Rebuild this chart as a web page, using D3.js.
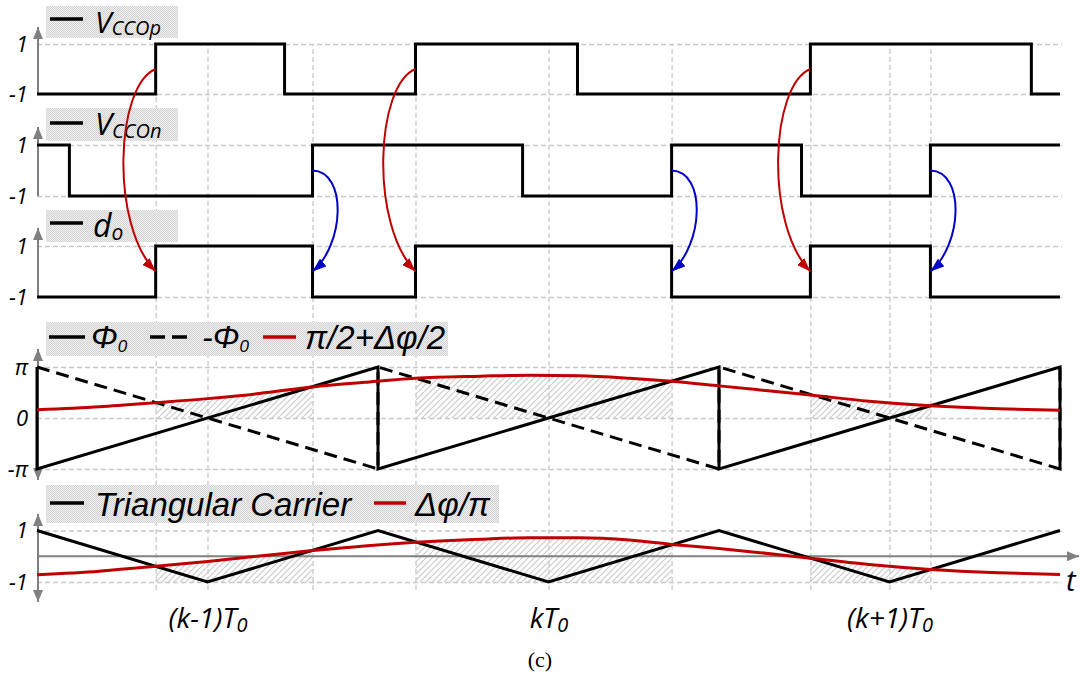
<!DOCTYPE html>
<html>
<head>
<meta charset="utf-8">
<script src="https://cdn.jsdelivr.net/npm/d3@7"></script>
<style>
  body { margin: 0; background: #fff; }
  svg { display: block; }
</style>
</head>
<body>
<svg id="chart" width="1080" height="677"></svg>
<script>
// time is in units of T0, with (k-1)T0 at t = 0
const tStart = -0.5, tEnd = 2.5;
const gridTimes = [-0.152, 0, 0.308, 0.61, 1.0, 1.361, 1.768, 2.0, 2.12];
const periodTimes = [0, 1, 2];
const periodNames = ["(k-1)T", "kT", "(k+1)T"];

// square waves: switching instants and the level held after each
const vpEdges = [-0.5, -0.152, 0.226, 0.61, 1.085, 1.768, 2.416, 2.5];
const vpLevels = [-1, 1, -1, 1, -1, 1, -1, -1];
const vnEdges = [-0.5, -0.405, 0.308, 0.924, 1.361, 1.742, 2.12, 2.5];
const vnLevels = [1, -1, 1, -1, 1, -1, 1, 1];
const doEdges = [-0.5, -0.152, 0.308, 0.61, 1.361, 1.768, 2.12, 2.5];
const doLevels = [-1, 1, -1, 1, -1, 1, -1, -1];

// phase ramps (units of pi)
const phiT = [-0.5, -0.5, 0.5, 0.5, 1.5, 1.5, 2.5, 2.5];
const phiV = [1, -1, 1, -1, 1, -1, 1, -1];
const negPhiT = [-0.5, 0.5, 0.5, 1.5, 1.5, 2.5, 2.5];
const negPhiV = [1, -1, 1, -1, 1, -1, 1];

// smooth red curves
const curveT = [-0.5, -0.317, -0.152, 0, 0.152, 0.308, 0.46, 0.61, 0.8, 0.944,
                1.09, 1.238, 1.361, 1.5, 1.62, 1.768, 1.94, 2.12, 2.32, 2.5];
const halfPiPlus = [0.16, 0.22, 0.30, 0.38, 0.48, 0.61, 0.70, 0.78, 0.82, 0.84,
                    0.83, 0.78, 0.72, 0.63, 0.55, 0.45, 0.33, 0.24, 0.18, 0.15];
const dPhiOverPi = [-0.72, -0.58, -0.39, -0.2, 0.01, 0.22, 0.4, 0.54, 0.66, 0.72,
                    0.72, 0.63, 0.46, 0.3, 0.14, -0.08, -0.32, -0.51, -0.64, -0.71];

// triangular carrier
const carrierT = [-0.5, 0, 0.5, 1, 1.5, 2, 2.5];
const carrierV = [1, -1, 1, -1, 1, -1, 1];

// shaded intervals
const shadeFrom = [-0.152, 0.61, 1.768];
const shadeTo = [0.308, 1.361, 2.12];

// arrows: red from VCCOp rising edges, blue from VCCOn rising edges
const redArrowT = [-0.152, 0.61, 1.768];
const blueArrowT = [0.308, 1.361, 2.12];

const svg = d3.select("#chart");
const x = d3.scaleLinear().domain([tStart, tEnd]).range([37, 1060]);
const y1 = d3.scaleLinear().domain([-1, 1]).range([94, 44]);
const y2 = d3.scaleLinear().domain([-1, 1]).range([196, 145]);
const y3 = d3.scaleLinear().domain([-1, 1]).range([297, 246]);
const y4 = d3.scaleLinear().domain([-1, 1]).range([469, 367]);
const y5 = d3.scaleLinear().domain([-1, 1]).range([582, 530.5]);

const gridColor = "#c8c8c8";
const axisColor = "#808080";
const red = "#c00000";
const blue = "#0000c8";
const cal = "'Open Sans', Lato, sans-serif";
const arial = "'Liberation Sans', Arial, sans-serif";

const defs = svg.append("defs");
const dots = defs.append("pattern").attr("id", "dots")
  .attr("patternUnits", "userSpaceOnUse").attr("width", 2).attr("height", 2);
dots.append("rect").attr("width", 2).attr("height", 2).attr("fill", "#f0f0f0");
dots.append("rect").attr("width", 1).attr("height", 1).attr("fill", "#d2d2d2");
dots.append("rect").attr("x", 1).attr("y", 1).attr("width", 1).attr("height", 1).attr("fill", "#d2d2d2");

const hatch = defs.append("pattern").attr("id", "hatch")
  .attr("patternUnits", "userSpaceOnUse").attr("width", 6).attr("height", 6);
hatch.append("path").attr("d", "M-1,1 l2,-2 M0,6 l6,-6 M5,7 l2,-2")
  .attr("stroke", gridColor).attr("stroke-width", 1.1);

function marker(id, color, len, half) {
  defs.append("marker").attr("id", id)
    .attr("viewBox", `0 ${-half} ${len} ${half * 2}`)
    .attr("refX", len).attr("refY", 0)
    .attr("markerUnits", "userSpaceOnUse")
    .attr("markerWidth", len).attr("markerHeight", half * 2)
    .attr("orient", "auto-start-reverse")
    .append("path").attr("d", `M0,${-half}L${len},0L0,${half}Z`).attr("fill", color);
}
marker("axArrow", axisColor, 12, 5);
marker("redHead", red, 14, 5);
marker("blueHead", blue, 14, 5);

// vertical grid
const vGrid = svg.append("g").attr("transform", "translate(0,590)")
  .call(d3.axisBottom(x).tickValues(gridTimes).tickSize(-(590 - 44)).tickFormat(""));
vGrid.select(".domain").remove();
vGrid.selectAll("line").attr("stroke", gridColor).attr("stroke-width", 1.3).attr("stroke-dasharray", "5,3");

// horizontal grid + tick labels
const levelName = { "1": "1", "-1": "-1" };
const phaseName = { "1": "π", "0": "0", "-1": "-π" };
function yGrid(scale, values, names) {
  const g = svg.append("g").attr("transform", "translate(37,0)")
    .call(d3.axisLeft(scale).tickValues(values).tickSize(-(1062 - 37)).tickPadding(9)
      .tickFormat(d => names[d]));
  g.select(".domain").remove();
  g.selectAll("line").attr("stroke", gridColor).attr("stroke-width", 1.3).attr("stroke-dasharray", "5,3");
  g.selectAll("text").attr("font-family", cal).attr("font-style", "italic")
    .attr("font-size", 22).attr("fill", "#000");
}
yGrid(y1, [-1, 1], levelName);
yGrid(y2, [-1, 1], levelName);
yGrid(y3, [-1, 1], levelName);
yGrid(y4, [-1, 0, 1], phaseName);
yGrid(y5, [-1, 1], levelName);

// hatched areas under the red curves
const pts4 = curveT.map((t, i) => [t, halfPiPlus[i]]);
const pts5 = curveT.map((t, i) => [t, dPhiOverPi[i]]);
shadeFrom.forEach((a, i) => {
  const cid = "clip" + i;
  defs.append("clipPath").attr("id", cid).append("rect")
    .attr("x", x(a)).attr("y", 0).attr("width", x(shadeTo[i]) - x(a)).attr("height", 677);
  svg.append("path").datum(pts4).attr("clip-path", `url(#${cid})`).attr("fill", "url(#hatch)")
    .attr("d", d3.area().x(d => x(d[0])).y0(y4(0)).y1(d => y4(d[1])).curve(d3.curveMonotoneX));
  svg.append("path").datum(pts5).attr("clip-path", `url(#${cid})`).attr("fill", "url(#hatch)")
    .attr("d", d3.area().x(d => x(d[0])).y0(y5(-1)).y1(d => y5(d[1])).curve(d3.curveMonotoneX));
});

// axes with arrows
function vAxis(yTop, yBot, both) {
  svg.append("line").attr("x1", 38).attr("x2", 38).attr("y1", yBot).attr("y2", yTop)
    .attr("stroke", axisColor).attr("stroke-width", 2)
    .attr("marker-end", "url(#axArrow)")
    .attr("marker-start", both ? "url(#axArrow)" : null);
}
vAxis(27, y1(-1), false);
vAxis(127, y2(-1), false);
vAxis(228, y3(-1), false);
vAxis(349, 480, true);
vAxis(514, 602, true);
svg.append("line").attr("x1", x(tStart)).attr("x2", 1079).attr("y1", y5(0)).attr("y2", y5(0))
  .attr("stroke", axisColor).attr("stroke-width", 2).attr("marker-end", "url(#axArrow)");

// waveforms
function drawLine(pts, yScale, color, curve, dash) {
  svg.append("path").datum(pts)
    .attr("d", d3.line().x(d => x(d[0])).y(d => yScale(d[1])).curve(curve))
    .attr("fill", "none").attr("stroke", color).attr("stroke-width", 3)
    .attr("stroke-linejoin", "miter").attr("stroke-dasharray", dash || null);
}
const zip = (a, b) => a.map((v, i) => [v, b[i]]);
drawLine(zip(vpEdges, vpLevels), y1, "#000", d3.curveStepAfter);
drawLine(zip(vnEdges, vnLevels), y2, "#000", d3.curveStepAfter);
drawLine(zip(doEdges, doLevels), y3, "#000", d3.curveStepAfter);
drawLine(zip(negPhiT, negPhiV), y4, "#000", d3.curveLinear, "13,7");
drawLine(zip(phiT, phiV), y4, "#000", d3.curveLinear);
drawLine(pts4, y4, red, d3.curveMonotoneX);
drawLine(zip(carrierT, carrierV), y5, "#000", d3.curveLinear);
drawLine(pts5, y5, red, d3.curveMonotoneX);

// legends
function box(bx, by, bw, bh) {
  svg.append("rect").attr("x", bx).attr("y", by).attr("width", bw).attr("height", bh).attr("fill", "url(#dots)");
}
function sample(xa, xb, yy, color, dash) {
  svg.append("line").attr("x1", xa).attr("x2", xb).attr("y1", yy).attr("y2", yy)
    .attr("stroke", color).attr("stroke-width", 3.5).attr("stroke-dasharray", dash || null);
}
function label(xx, yy, main, sub, family, size, subSize, subDy) {
  const t = svg.append("text").attr("x", xx).attr("y", yy)
    .attr("font-family", family).attr("font-style", "italic").attr("font-size", size).attr("fill", "#000");
  t.append("tspan").text(main);
  if (sub) t.append("tspan").attr("font-size", subSize).attr("dy", subDy).text(sub);
  return t;
}

box(46, 6, 132, 32);
sample(50, 83, 19, "#000");
label(95, 33, "V", "CCOp", cal, 30, 20, 2);

box(46, 108, 132, 33);
sample(50, 83, 123, "#000");
label(95, 135, "V", "CCOn", cal, 31, 20, 3);

box(46, 210, 132, 32);
sample(50, 83, 223, "#000");
label(93, 237, "d", "o", cal, 32, 21, 3);

box(46, 322, 402, 34);
sample(49, 85, 337, "#000");
label(91, 348, "Φ", "0", arial, 32, 17, 4);
sample(150, 188, 337, "#000", "15,7");
label(202, 348, "-Φ", "0", arial, 32, 17, 4);
sample(263, 296, 337, red);
label(305, 349, "π/2+Δφ/2", null, arial, 33);

box(46, 485, 453, 38);
sample(50, 84, 503, "#000");
label(95, 516, "Triangular Carrier", null, arial, 33);
sample(374, 406, 503, red);
label(415, 516, "Δφ/π", null, arial, 33);

// time axis labels
const xl = svg.append("g").attr("transform", "translate(0,600)")
  .call(d3.axisBottom(x).tickValues(periodTimes).tickSize(0).tickFormat(""));
xl.select(".domain").remove();
xl.selectAll(".tick text")
  .attr("y", 28).attr("dy", null)
  .attr("font-family", cal).attr("font-style", "italic").attr("font-size", 28).attr("fill", "#000")
  .each(function(d, i) {
    const t = d3.select(this);
    t.append("tspan").text(periodNames[i]);
    t.append("tspan").attr("font-size", 20).attr("dy", 4).text("0");
  });

svg.append("text").attr("x", 1066).attr("y", 591)
  .attr("font-family", cal).attr("font-style", "italic").attr("font-size", 29).text("t");

svg.append("text").attr("x", 540).attr("y", 667).attr("text-anchor", "middle")
  .attr("font-family", "'Liberation Serif', 'Times New Roman', serif").attr("font-size", 22).text("(c)");

// curved arrows between panels
const yMid1 = y1(0), yMid2 = y2(0), yMid3 = y3(0);
redArrowT.forEach(t => {
  const px = x(t);
  const p = d3.path();
  p.moveTo(px, yMid1);
  p.bezierCurveTo(px - 40, yMid1 + 16, px - 46, yMid3 - 47, px, yMid3);
  svg.append("path").attr("d", p.toString()).attr("fill", "none")
    .attr("stroke", red).attr("stroke-width", 2).attr("marker-end", "url(#redHead)");
});
blueArrowT.forEach(t => {
  const px = x(t);
  const p = d3.path();
  p.moveTo(px, yMid2);
  p.bezierCurveTo(px + 35, yMid2 + 1, px + 32, yMid3 - 27, px, yMid3);
  svg.append("path").attr("d", p.toString()).attr("fill", "none")
    .attr("stroke", blue).attr("stroke-width", 2).attr("marker-end", "url(#blueHead)");
});
</script>
</body>
</html>
